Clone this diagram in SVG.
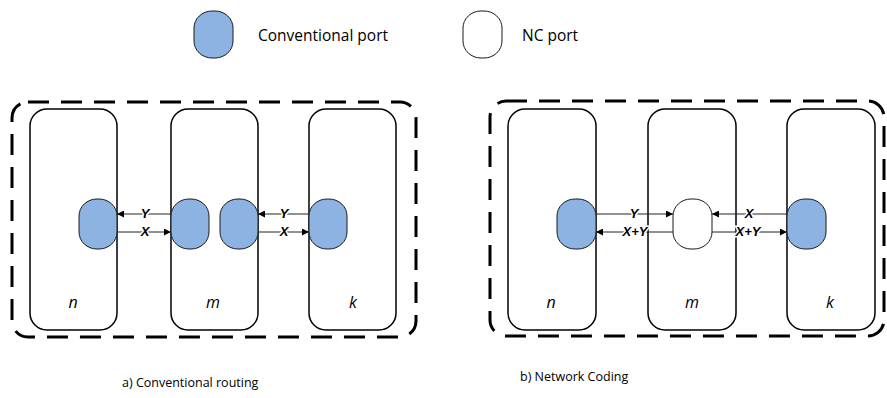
<svg xmlns="http://www.w3.org/2000/svg" width="887" height="398" viewBox="0 0 887 398">
  <style>
    .panel { fill: none; stroke: #000; stroke-width: 3; stroke-dasharray: 21 12; }
    .node { fill: #fff; stroke: #000; stroke-width: 1.5; }
    .port { fill: #8DB3E2; stroke: #1a1a1a; stroke-width: 1; }
    .nc { fill: #fff; stroke: #1a1a1a; stroke-width: 1; }
    .link { stroke: #222; stroke-width: 1; fill: none; marker-end: url(#arrow); }
    .lbl { font-family: "Liberation Sans", Arial, sans-serif; font-size: 13px; font-weight: bold; font-style: italic; fill: #000; text-anchor: middle; stroke: #fff; stroke-width: 3; paint-order: stroke; }
    .name { font-family: "Open Sans", "Liberation Sans", sans-serif; font-size: 16px; font-style: italic; fill: #000; text-anchor: middle; }
    .legend { font-family: "Open Sans", "Liberation Sans", sans-serif; font-size: 15.5px; fill: #000; }
    .caption { font-family: "Open Sans", "Liberation Sans", sans-serif; font-size: 12.5px; fill: #000; }
  </style>
  <defs>
    <marker id="arrow" viewBox="0 0 10 10" refX="10" refY="5" markerWidth="7" markerHeight="7" markerUnits="userSpaceOnUse" orient="auto">
      <path d="M0,0 L10,5 L0,10 z" fill="#000"/>
    </marker>
  </defs>

  <!-- legend -->
  <g id="legend">
    <rect class="port" x="194" y="11" width="39" height="47" rx="18" ry="17"/>
    <text class="legend" x="258" y="41">Conventional port</text>
    <rect class="nc" x="463" y="11" width="39" height="47" rx="18" ry="17"/>
    <text class="legend" x="522" y="41">NC port</text>
  </g>

  <!-- panel a: conventional routing -->
  <g id="panel-a">
    <rect class="panel" x="12" y="102" width="404" height="235" rx="16"/>
    <g id="a-n">
      <rect class="node" x="30" y="109" width="87" height="221" rx="17"/>
      <rect class="port" x="79" y="199" width="38" height="50" rx="18" ry="17"/>
      <text class="name" x="73" y="308">n</text>
    </g>
    <g id="a-m">
      <rect class="node" x="171" y="109" width="87" height="221" rx="17"/>
      <rect class="port" x="171" y="199" width="38" height="50" rx="18" ry="17"/>
      <rect class="port" x="220" y="199" width="38" height="50" rx="18" ry="17"/>
      <text class="name" x="213" y="308">m</text>
    </g>
    <g id="a-k">
      <rect class="node" x="309" y="109" width="87" height="221" rx="17"/>
      <rect class="port" x="309" y="199" width="38" height="50" rx="18" ry="17"/>
      <text class="name" x="353" y="308">k</text>
    </g>
    <text class="caption" x="122" y="387">a) Conventional routing</text>
  </g>

  <!-- panel b: network coding -->
  <g id="panel-b">
    <rect class="panel" x="490" y="101" width="394" height="235" rx="16"/>
    <g id="b-n">
      <rect class="node" x="508" y="109" width="88" height="221" rx="17"/>
      <rect class="port" x="557" y="199" width="39" height="50" rx="18" ry="17"/>
      <text class="name" x="551" y="308">n</text>
    </g>
    <g id="b-m">
      <rect class="node" x="648" y="109" width="88" height="221" rx="17"/>
      <rect class="nc" x="673" y="199" width="39" height="50" rx="18" ry="17"/>
      <text class="name" x="692" y="308">m</text>
    </g>
    <g id="b-k">
      <rect class="node" x="787" y="109" width="88" height="221" rx="17"/>
      <rect class="port" x="787" y="199" width="39" height="50" rx="18" ry="17"/>
      <text class="name" x="830" y="308">k</text>
    </g>
    <text class="caption" x="520" y="381">b) Network Coding</text>
  </g>

  <!-- connectors -->
  <g id="connectors">
    <line class="link" x1="171" y1="214" x2="117" y2="214"/>
    <line class="link" x1="117" y1="232" x2="171" y2="232"/>
    <line class="link" x1="309" y1="214" x2="258" y2="214"/>
    <line class="link" x1="258" y1="232" x2="309" y2="232"/>
    <line class="link" x1="596" y1="214" x2="673" y2="214"/>
    <line class="link" x1="673" y1="232" x2="596" y2="232"/>
    <line class="link" x1="787" y1="214" x2="712" y2="214"/>
    <line class="link" x1="712" y1="232" x2="787" y2="232"/>
    <text class="lbl" x="145" y="218">Y</text>
    <text class="lbl" x="145" y="236">X</text>
    <text class="lbl" x="284" y="218">Y</text>
    <text class="lbl" x="284" y="236">X</text>
    <text class="lbl" x="634" y="218">Y</text>
    <text class="lbl" x="635" y="236">X+Y</text>
    <text class="lbl" x="749" y="218">X</text>
    <text class="lbl" x="748" y="236">X+Y</text>
  </g>
</svg>
